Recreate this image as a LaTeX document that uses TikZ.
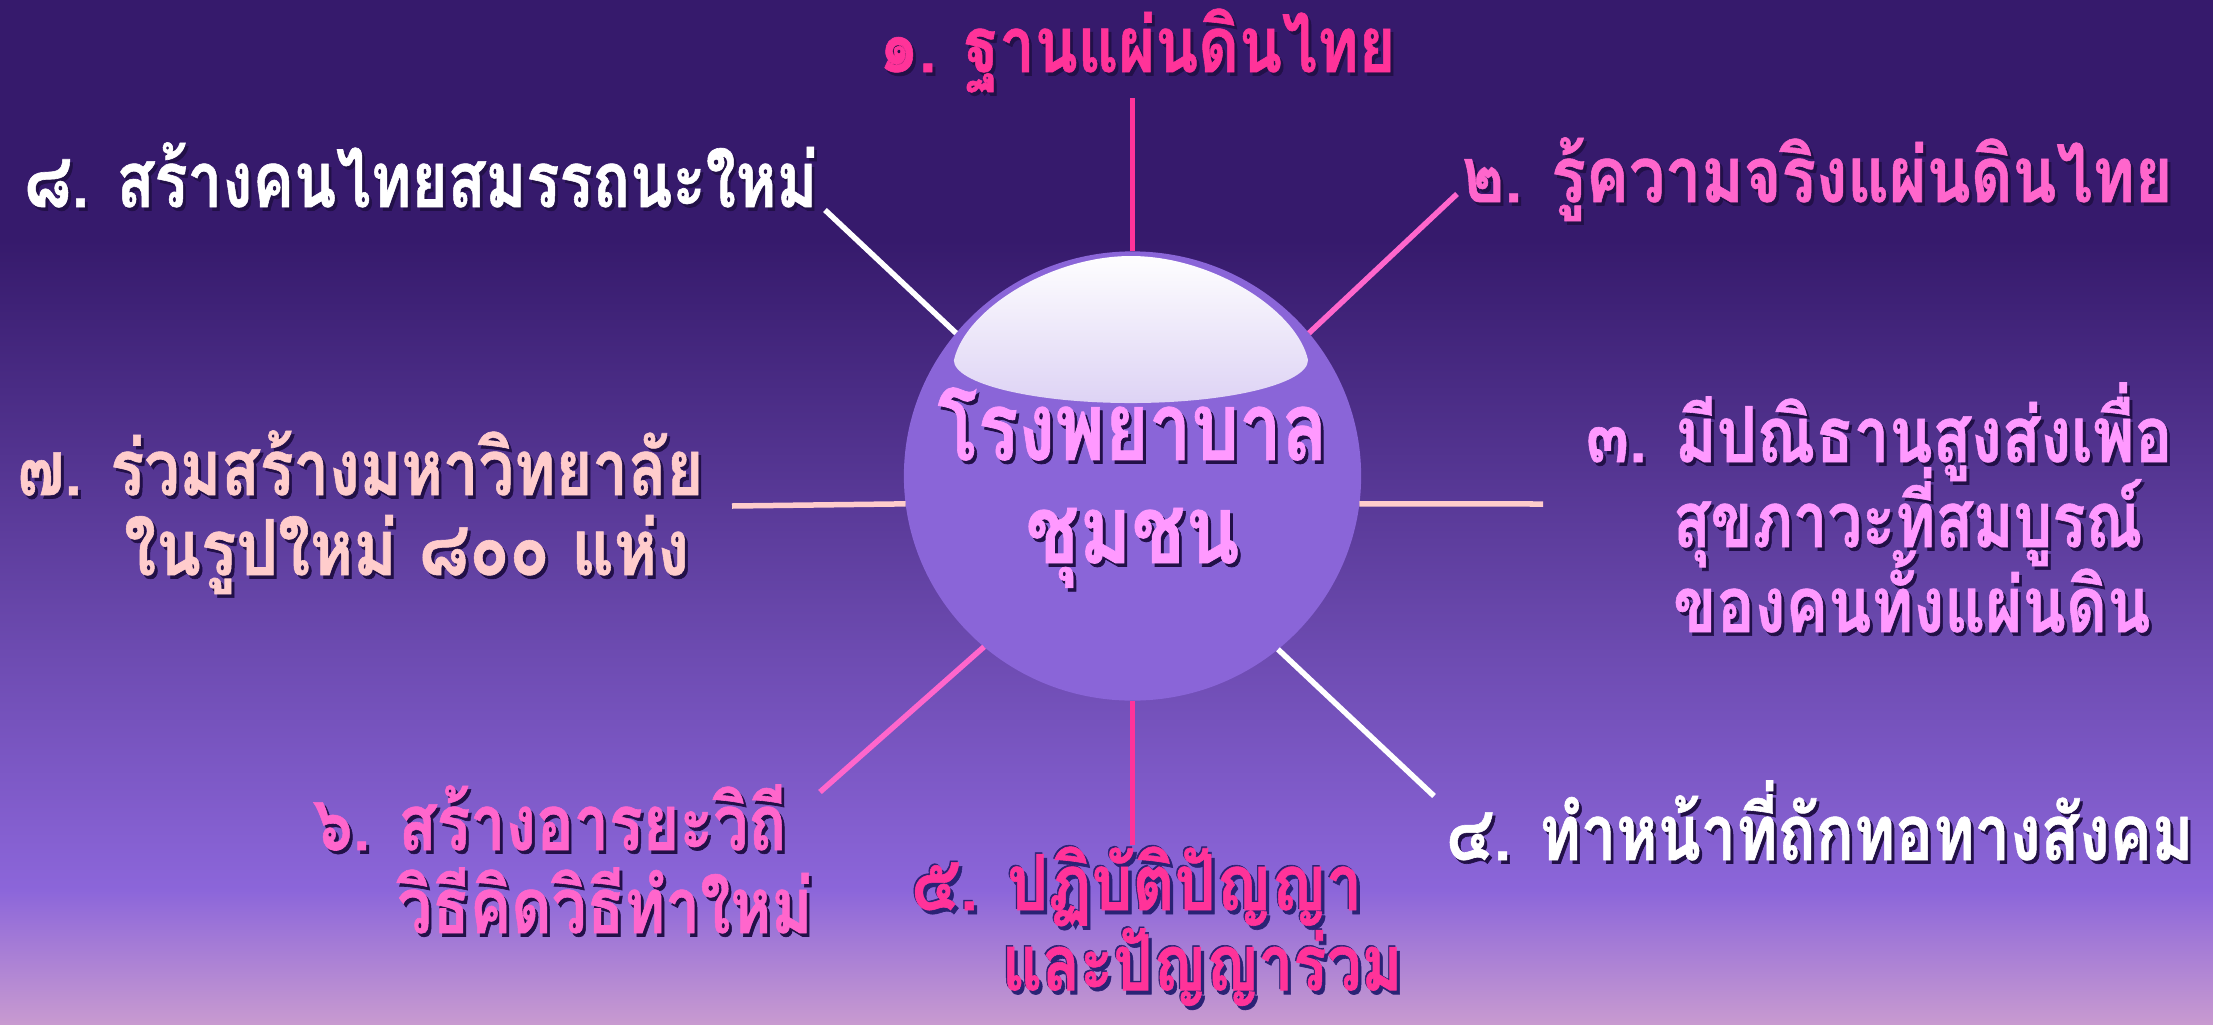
\documentclass[tikz,border=0pt]{standalone}
\usepackage{fontspec}
\usepackage{graphicx}
\newfontfamily\thaifont[Script=Thai,BoldFeatures={FakeBold=0.8}]{Loma}
\usetikzlibrary{shapes.geometric}
\definecolor{bgtop}{HTML}{361A6C}
\definecolor{bgmidA}{HTML}{6645A8}
\definecolor{bgmidB}{HTML}{8C66DA}
\definecolor{bgbot}{HTML}{C89AD0}
\definecolor{hubfill}{HTML}{8A65D8}
\definecolor{hlbot}{HTML}{9C7DE0}
\definecolor{hlmid}{HTML}{C4B0EE}
\definecolor{cA}{HTML}{FF3399}
\definecolor{cB}{HTML}{FF66CC}
\definecolor{cC}{HTML}{FF99FF}
\definecolor{cD}{HTML}{FFCCCC}
\definecolor{shadowc}{HTML}{221048}
\definecolor{glowc}{HTML}{2A2275}
% text with drop shadow
\newcommand\shd[2]{\rlap{\kern0.035cm\raisebox{-0.035cm}{\color{shadowc}#2}}{\color{#1}#2}}
% text with dark glow
\newcommand\shdg[2]{\rlap{\kern0.04cm\raisebox{-0.04cm}{\color{glowc}#2}}\rlap{\kern-0.015cm\raisebox{0.015cm}{\color{glowc}#2}}{\color{#1}#2}}
\newcommand\fitline[3]{\resizebox{#1}{\height}{\shd{#2}{#3}}}
\newcommand\mline[3]{\smash{\fitline{#1}{#2}{#3}}}
\newcommand\mlineg[3]{\smash{\resizebox{#1}{\height}{\shdg{#2}{#3}}}}
\newcommand\lblfont[2]{\thaifont\bfseries\fontsize{#1}{#2}\selectfont}
\begin{document}
\begin{tikzpicture}[x=0.01cm,y=-0.01cm,
  lbl/.style={inner sep=0pt,outer sep=0pt,anchor=base west},
  spoke/.style={line width=0.055cm},
  hubstyle/.style={ellipse,fill=hubfill,inner sep=0pt,outer sep=0pt,
    minimum width=4.57cm,minimum height=4.49cm,
    path picture={\shade[shift={(path picture bounding box.center)},
      top color=white,middle color=hlmid,bottom color=hlbot]
      (-178.5,-116) .. controls (-167.5,-166) and (-82.5,-220) .. (-1.5,-220)
      .. controls (79.5,-220) and (164.5,-166) .. (175.5,-116)
      arc[start angle=0,end angle=-180,x radius=1.77cm,y radius=0.43cm] -- cycle;}}]
\useasboundingbox (0,0) rectangle (2213,1024);
% background
\fill[bgtop] (0,0) rectangle (2213,242);
\shade[top color=bgtop,bottom color=bgmidA] (0,240) rectangle (2213,602);
\shade[top color=bgmidA,bottom color=bgmidB] (0,600) rectangle (2213,892);
\shade[top color=bgmidB,bottom color=bgbot] (0,890) rectangle (2213,1024);
% hub
\node[hubstyle] (hub) at (1132.5,476) {\makebox[0pt]{\raisebox{0.16cm}[0pt][0pt]{\lblfont{27}{29.3}\begin{tabular}[t]{@{}c@{}}\mline{3.9cm}{cC}{โรงพยาบาล}\\ \mline{2.14cm}{cC}{ชุมชน}\end{tabular}}}};
% outer ends of spokes
\coordinate (e1) at (1132.5,98);
\coordinate (e2) at (1457,194);
\coordinate (e3) at (1543,504);
\coordinate (e4) at (1434,796);
\coordinate (e5) at (1132.5,845);
\coordinate (e6) at (820,792);
\coordinate (e7) at (732,506);
\coordinate (e8) at (825,210);
\draw[spoke,cA] (hub.90) -- (e1);
\draw[spoke,cB] (hub.39.6) -- (e2);
\draw[spoke,cD] (hub.-7) -- (e3);
\draw[spoke,white] (hub.-50.5) -- (e4);
\draw[spoke,cA] (hub.-90) -- (e5);
\draw[spoke,cB] (hub.229.4) -- (e6);
\draw[spoke,cD] (hub.187.5) -- (e7);
\draw[spoke,white] (hub.141.2) -- (e8);
% labels
\node[lbl,font={\lblfont{22}{24}}] (t1) at (879,72) {\fitline{5.16cm}{cA}{๑. ฐานแผ่นดินไทย}};
\node[lbl,font={\lblfont{22}{24}}] (t2) at (1462,202) {\fitline{7.10cm}{cB}{๒. รู้ความจริงแผ่นดินไทย}};
\node[lbl,font={\lblfont{22}{24.18}}] (t3) at (1586,462) {\begin{tabular}[t]{@{}l@{}}\mline{5.86cm}{cC}{๓. มีปณิธานสูงส่งเพื่อ}\\ \hspace*{0.87cm}\mline{4.69cm}{cC}{สุขภาวะที่สมบูรณ์}\\ \hspace*{0.87cm}\mline{4.77cm}{cC}{ของคนทั้งแผ่นดิน}\end{tabular}};
\node[lbl,font={\lblfont{22}{24}}] (t4) at (1446,860) {\fitline{7.47cm}{white}{๔. ทำหน้าที่ถักทอทางสังคม}};
\node[lbl,font={\lblfont{22}{22.8}}] (t5) at (911,910) {\begin{tabular}[t]{@{}l@{}}\mlineg{4.51cm}{cA}{๕. ปฏิบัติปัญญา}\\ \hspace*{0.91cm}\mlineg{4.00cm}{cA}{และปัญญาร่วม}\end{tabular}};
\node[lbl,font={\lblfont{22}{23.6}}] (t6) at (313,850) {\begin{tabular}[t]{@{}l@{}}\mline{4.73cm}{cB}{๖. สร้างอารยะวิถี}\\ \hspace*{0.84cm}\mline{4.15cm}{cB}{วิธีคิดวิธีทำใหม่}\end{tabular}};
\node[lbl,font={\lblfont{22}{22.76}}] (t7) at (17,495) {\begin{tabular}[t]{@{}l@{}}\mline{6.86cm}{cD}{๗. ร่วมสร้างมหาวิทยาลัย}\\ \hspace*{1.07cm}\mline{5.65cm}{cD}{ในรูปใหม่ ๘๐๐ แห่ง}\end{tabular}};
\node[lbl,font={\lblfont{22}{24}}] (t8) at (24,207) {\fitline{7.93cm}{white}{๘. สร้างคนไทยสมรรถนะใหม่}};
\end{tikzpicture}
\end{document}
